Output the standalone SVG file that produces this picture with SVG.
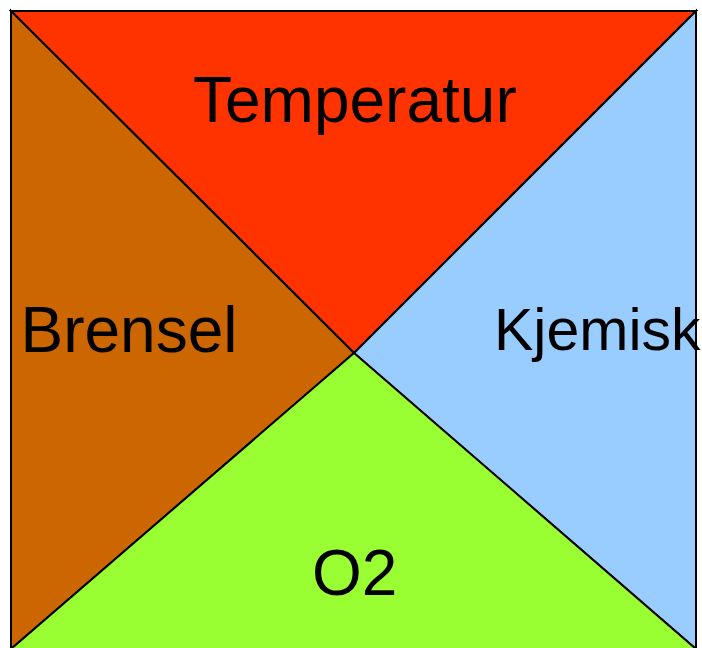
<svg xmlns="http://www.w3.org/2000/svg" width="702" height="648" viewBox="0 0 702 648">
<style>
.tri{stroke:#000;stroke-width:2;stroke-linejoin:miter}
.lbl{font-family:"Liberation Sans",Arial,sans-serif;font-size:64px;fill:#000}
</style>
<rect width="702" height="648" fill="#fff"/>
<g id="temperatur">
<polygon class="tri" points="11,11 696,11 354,353" fill="#FF3300"/>
</g>
<g id="brensel">
<polygon class="tri" points="11,11 354,353 11,649 11,649" fill="#CC6600"/>
</g>
<g id="kjemisk">
<polygon class="tri" points="696,11 696,649 354,353" fill="#99CCFF"/>
</g>
<g id="o2">
<polygon class="tri" points="11,649 354,353 696,649" fill="#99FF33"/>
</g>
<g id="labels">
<text class="lbl" x="193" y="122">Temperatur</text>
<text class="lbl" x="20.5" y="352">Brensel</text>
<text class="lbl" x="494" y="350" style="font-size:59px">Kjemisk</text>
<text class="lbl" x="312" y="595">O2</text>
</g>
<line x1="696" y1="300" x2="696" y2="370" stroke="#000" stroke-width="2"/>
</svg>
